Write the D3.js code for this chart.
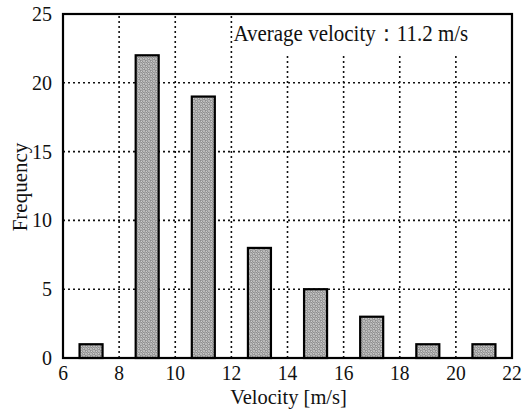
<!DOCTYPE html>
<html lang="en">
<head>
<meta charset="UTF-8">
<title>Velocity histogram</title>
<script src="https://d3js.org/d3.v7.min.js"></script>
<style>
  body { margin: 0; background: #fff; }
  text { font-family: "Liberation Serif", "Times New Roman", serif; fill: #111; }
</style>
</head>
<body>
<script>
    // data
    const binCenters = [7, 9, 11, 13, 15, 17, 19, 21];
    const frequency = [1, 22, 19, 8, 5, 3, 1, 1];
    const xTicks = [6, 8, 10, 12, 14, 16, 18, 20, 22];
    const yTicks = [0, 5, 10, 15, 20, 25];
    const note = "Average velocity\uFF1A11.2 m/s";

    const W = 524, H = 409;
    const m = { left: 63, top: 14, right: 12, bottom: 51 };

    let svg = d3.select("body").append("svg")
        .attr("width", W)
        .attr("height", H);

    let x = d3.scaleLinear().domain([6, 22]).range([m.left, W - m.right]);
    let y = d3.scaleLinear().domain([0, 25]).range([H - m.bottom, m.top]);

    // stipple pattern for the bars
    let pat = svg.append("defs").append("pattern")
        .attr("id", "dots")
        .attr("patternUnits", "userSpaceOnUse")
        .attr("width", 5).attr("height", 5);
    pat.append("rect").attr("width", 5).attr("height", 5).attr("fill", "#b8b8b8");
    pat.append("circle").attr("cx", 1.25).attr("cy", 1.25).attr("r", 1.1)
        .attr("fill", "#f0f0f0").attr("stroke", "#505050").attr("stroke-width", 0.6);
    pat.append("circle").attr("cx", 3.75).attr("cy", 3.75).attr("r", 1.1)
        .attr("fill", "#f0f0f0").attr("stroke", "#505050").attr("stroke-width", 0.6);

    // grid
    let grid = svg.append("g")
        .attr("stroke", "#111")
        .attr("stroke-width", 1.6)
        .attr("stroke-dasharray", "2,3");
    grid.selectAll(".vg")
        .data(xTicks.slice(1, -1))
        .enter().append("line")
        .attr("x1", d => x(d)).attr("x2", d => x(d))
        .attr("y1", y(0)).attr("y2", y(25));
    grid.selectAll(".hg")
        .data(yTicks.slice(1, -1))
        .enter().append("line")
        .attr("x1", x(6)).attr("x2", x(22))
        .attr("y1", d => y(d)).attr("y2", d => y(d));

    // white box behind the note
    svg.append("rect")
        .attr("x", x(12) + 2).attr("y", y(25))
        .attr("width", x(22) - x(12) - 2).attr("height", 40)
        .attr("fill", "#fff");

    // bars
    const bw = 0.82;
    svg.append("g")
        .selectAll("rect")
        .data(binCenters)
        .enter().append("rect")
        .attr("x", d => x(d - bw / 2))
        .attr("width", d => x(d + bw / 2) - x(d - bw / 2))
        .attr("y", (d, i) => y(frequency[i]))
        .attr("height", (d, i) => y(0) - y(frequency[i]))
        .attr("fill", "url(#dots)")
        .attr("stroke", "#000")
        .attr("stroke-width", 2.2);

    // frame
    svg.append("rect")
        .attr("x", x(6)).attr("y", y(25))
        .attr("width", x(22) - x(6)).attr("height", y(0) - y(25))
        .attr("fill", "none")
        .attr("stroke", "#000")
        .attr("stroke-width", 2.2);

    // tick labels
    svg.append("g").selectAll("text")
        .data(xTicks)
        .enter().append("text")
        .attr("transform", d => `translate(${x(d)},${y(0) + 22}) scale(1,1.08)`)
        .attr("text-anchor", "middle")
        .attr("font-size", 19.5)
        .text(d => d);
    svg.append("g").selectAll("text")
        .data(yTicks)
        .enter().append("text")
        .attr("transform", d => `translate(${x(6) - 11},${y(d) + 7}) scale(1,1.1)`)
        .attr("text-anchor", "end")
        .attr("font-size", 20)
        .text(d => d);

    // axis titles
    svg.append("text")
        .attr("x", (x(6) + x(22)) / 2 + 1)
        .attr("y", H - 5)
        .attr("text-anchor", "middle")
        .attr("font-size", 20.5)
        .text("Velocity [m/s]");
    svg.append("text")
        .attr("transform", `translate(27,${(y(0) + y(25)) / 2 + 1}) rotate(-90) scale(1.05,1)`)
        .attr("text-anchor", "middle")
        .attr("font-size", 20)
        .text("Frequency");

    // note
    svg.append("text")
        .attr("transform", `translate(${x(12) + 2},${y(25) + 27}) scale(1,1.1)`)
        .attr("font-size", 21)
        .text(note);
</script>
</body>
</html>
